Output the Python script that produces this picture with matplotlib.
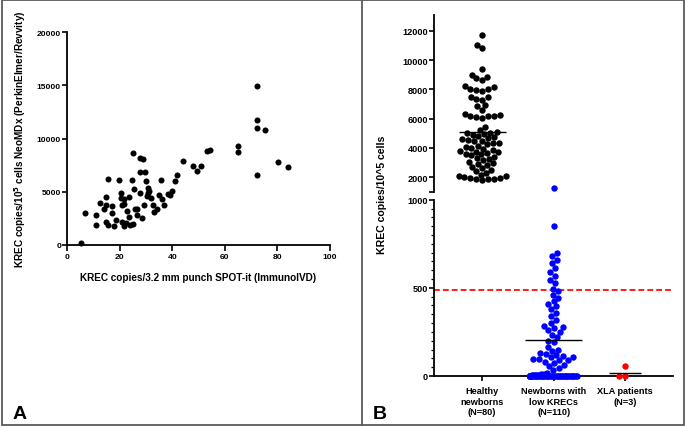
import numpy as np
import matplotlib
matplotlib.use("Agg")
import matplotlib.pyplot as plt
from matplotlib.patches import Rectangle
from matplotlib.lines import Line2D

plt.rcParams['font.family'] = ['Liberation Sans', 'DejaVu Sans']
plt.rcParams['font.weight'] = 'bold'
plt.rcParams['lines.scale_dashes'] = False

# ---------------- Panel A data ----------------
spot_x = [5.5, 6.7, 11.0, 11.0, 12.4, 14.0, 14.8, 15.0, 15.0, 15.5, 15.5, 17.3, 17.3, 17.9, 18.5,
          19.7, 20.7, 20.7, 20.9, 20.9, 21.6, 21.8, 21.8, 22.6, 22.8, 23.4, 23.7, 24.1, 24.6, 25.1,
          25.1, 25.6, 26.0, 26.6, 26.6, 27.7, 27.9, 27.9, 28.6, 28.9, 29.2, 29.8, 30.2, 30.5, 30.7,
          30.8, 31.1, 32.0, 32.7, 33.0, 34.3, 34.9, 35.9, 36.2, 36.8, 38.3, 39.3, 40.1, 41.1, 42.0,
          44.2, 48.0, 49.5, 50.8, 53.3, 54.2, 65.1, 65.1, 72.2, 72.1, 75.3, 72.1, 80.3, 83.9, 72.2]
neo_y = [190, 2990, 2830, 1890, 3930, 3330, 4530, 3770, 2140, 1890, 6230, 3650, 3020, 1760, 2300,
         6100, 4900, 4430, 3770, 2170, 4280, 3840, 1760, 2010, 3140, 4530, 2640, 1820, 6100, 8620,
         1950, 5280, 3400, 3330, 2770, 4900, 6860, 8210, 2550, 8050, 3710, 6860, 6040, 4590, 4840,
         5380, 5100, 4400, 3710, 3080, 3330, 4650, 6100, 4340, 3710, 4750, 4650, 5060, 5980, 6540,
         7860, 7390, 6980, 7420, 8810, 8960, 9340, 8740, 11700, 11010, 10790, 6540, 7830, 7300, 14900]

# ---------------- Panel B data ----------------
categories = ["Healthy\nnewborns\n(N=80)", "Newborns with\nlow KRECs\n(N=110)", "XLA patients\n(N=3)"]
healthy = [11700, 11050, 10800, 9400, 9000,
           8000, 8050, 8150, 8200, 8650, 8750, 8850,
           7300, 7350, 7450, 7500, 7900, 7950,
           6050, 6100, 6150, 6150, 6200, 6250, 6300, 6600, 6850, 6950,
           5050, 5100, 5250, 5450,
           4000, 4050, 4150, 4250, 4300, 4350, 4450, 4500, 4550, 4600, 4650, 4750, 4800, 4900, 4950, 5000,
           3050, 3150, 3250, 3300, 3400, 3500, 3550, 3600, 3650, 3700, 3750, 3800, 3850, 3950,
           2000, 2050, 2100, 2150, 2300, 2400, 2500, 2600, 2700, 2800, 2900, 2950,
           1800, 1850, 1880, 1900, 1920, 1950]
low_krec = [1270, 850,
            700, 680, 660, 640, 610, 590, 570, 545, 525,
            495, 480, 460, 445, 425, 410, 395, 380, 360, 340, 320, 300, 285, 278, 270, 262, 250, 235,
            220, 200, 192,
            165, 150, 140, 130, 122, 118, 112, 108, 105, 98, 95, 90, 88, 82, 75, 65, 55, 45,
            34, 15, 12, 10, 8, 6, 5, 4, 3, 2] + [0] * 50
xla = [55, 0, 0]
group_means = [5070, 204, 18]
cutoff = 485

group_values = [healthy, low_krec, xla]
group_colors = ['black', '#0000ff', '#ff0000']

W, H = 685, 427
fig = plt.figure(figsize=(W / 100, H / 100), dpi=100)


def rect(x0, y0, x1, y1):
    return [x0 / W, 1 - y1 / H, (x1 - x0) / W, (y1 - y0) / H]


# ---------------- Panel A ----------------
axA = fig.add_axes(rect(67, 33.3, 330, 245.7))
axA.scatter(spot_x, neo_y, s=19, color='black', linewidths=0, clip_on=False, zorder=3)
axA.set_xlim(0, 100)
axA.set_ylim(0, 20000)
axA.set_xticks(range(0, 101, 20))
axA.set_yticks(range(0, 20001, 5000))
for s in ['top', 'right']:
    axA.spines[s].set_visible(False)
for s in ['left', 'bottom']:
    axA.spines[s].set_linewidth(1.3)
axA.tick_params(axis='both', direction='out', width=1.2, labelsize=6.1)
axA.tick_params(axis='y', length=3.5, pad=0.8)
axA.tick_params(axis='x', length=4, pad=1.8)
axA.set_xlabel("KREC copies/3.2 mm punch SPOT-it (ImmunoIVD)", fontsize=7.2, fontweight='bold')
axA.set_ylabel("KREC copies/10$^{\\mathbf{5}}$ cells NeoMDx (PerkinElmer/Revvity)", fontsize=7.2,
               fontweight='bold')
axA.xaxis.set_label_coords(0.5, -0.128)
axA.yaxis.set_label_coords(-0.148, 0.5)

# ---------------- Panel B ----------------
axU = fig.add_axes(rect(434.3, 15.7, 673, 192.8))
axL = fig.add_axes(rect(434.3, 200.7, 673, 377))
for ax in (axU, axL):
    ax.set_xlim(-0.67, 2.67)
    for s in ['top', 'right']:
        ax.spines[s].set_visible(False)
    ax.spines['left'].set_linewidth(1.3)
    ax.spines['bottom'].set_linewidth(1.3)
    ax.tick_params(axis='both', direction='out', width=1.2, labelsize=6.6)
    ax.tick_params(axis='y', length=3.6, pad=0.8)
axU.spines['bottom'].set_visible(False)
axU.set_ylim(1000, 13100)
axU.set_yticks([1000] + list(range(2000, 12001, 2000)))
axU.set_yticklabels([''] + [str(v) for v in range(2000, 12001, 2000)])
axU.set_xticks([])
axL.set_ylim(0, 1000)
axL.set_yticks([0, 500, 1000])
axL.set_yticks(np.arange(0, 1001, 50), minor=True)
axL.tick_params(axis='y', which='minor', length=2, width=0.9)
axL.set_xticks(range(3))
axL.set_xticklabels(categories, fontsize=6.6, fontweight='bold')
axL.tick_params(axis='x', length=3.5, pad=4)

D_PX = 6.0
MS_PX = 6.4
MAXW = 0.33 * 71.5


def swarm(ax, xc, vals, color):
    vals = np.asarray(vals, float)
    if len(vals) == 0:
        return
    pts = ax.transData.transform(np.column_stack([np.full(len(vals), xc), vals]))
    x0 = pts[0, 0]
    ys = pts[:, 1]
    order = np.argsort(ys, kind='stable')
    placed = []
    offs = np.zeros(len(vals))
    for i in order:
        y = ys[i]
        cands = [0.0]
        for px, py in placed:
            dy = abs(py - y)
            if dy < D_PX:
                dx = np.sqrt(D_PX ** 2 - dy ** 2)
                cands += [px + dx, px - dx]
        cands = sorted(cands, key=lambda c: (abs(c), c))
        chosen = None
        for c in cands:
            if abs(c) > MAXW + 1e-6:
                continue
            ok = all((c - px) ** 2 + (y - py) ** 2 >= D_PX ** 2 - 1e-6 for px, py in placed)
            if ok:
                chosen = c
                break
        if chosen is None:
            grid = np.linspace(-MAXW, MAXW, 31)
            best, bestd = 0.0, -1
            for g in grid:
                dmin = min(np.hypot(g - px, y - py) for px, py in placed)
                if dmin > bestd + 1e-9:
                    best, bestd = g, dmin
            chosen = best
        offs[i] = chosen
        placed.append((chosen, y))
    data = ax.transData.inverted().transform(np.column_stack([x0 + offs, ys]))
    ax.plot(data[:, 0], data[:, 1], 'o', ms=MS_PX / 1.389, color=color, mec=color, mew=0,
            clip_on=False, zorder=3)


for k, (vals, col) in enumerate(zip(group_values, group_colors)):
    vals = np.asarray(vals, float)
    swarm(axU, k, vals[vals > 1000], col)
    swarm(axL, k, vals[vals <= 1000], col)

mean_half = [0.33, 0.4, 0.22]
for k, m in enumerate(group_means):
    ax = axU if m > 1000 else axL
    ax.hlines(m, k - mean_half[k], k + mean_half[k], color='black', lw=1.0, zorder=4)

axL.axhline(cutoff, color='#ff1a1a', lw=1.4, ls=(0, (4.2, 2.2)), zorder=2)

fig.text(382 / W, 1 - 195 / H, "KREC copies/10^5 cells", rotation=90, ha='center', va='center',
         fontsize=7.6, fontweight='bold')

# panel letters
fig.text(12.5 / W, 1 - 419 / H, "A", fontsize=14, fontweight='bold', ha='left', va='baseline')
fig.text(373 / W, 1 - 419.5 / H, "B", fontsize=14, fontweight='bold', ha='left', va='baseline')

# frame and divider
fig.patches.append(Rectangle((1.5 / W, 1 - 426 / H), 682 / W, 425.3 / H, transform=fig.transFigure,
                             fill=False, edgecolor='#5a5a5a', lw=1.3))
fig.lines.append(Line2D([362 / W, 362 / W], [1 - 426 / H, 1 - 0.7 / H], transform=fig.transFigure,
                        color='#5a5a5a', lw=1.3))

fig.savefig("out.png", dpi=100)
